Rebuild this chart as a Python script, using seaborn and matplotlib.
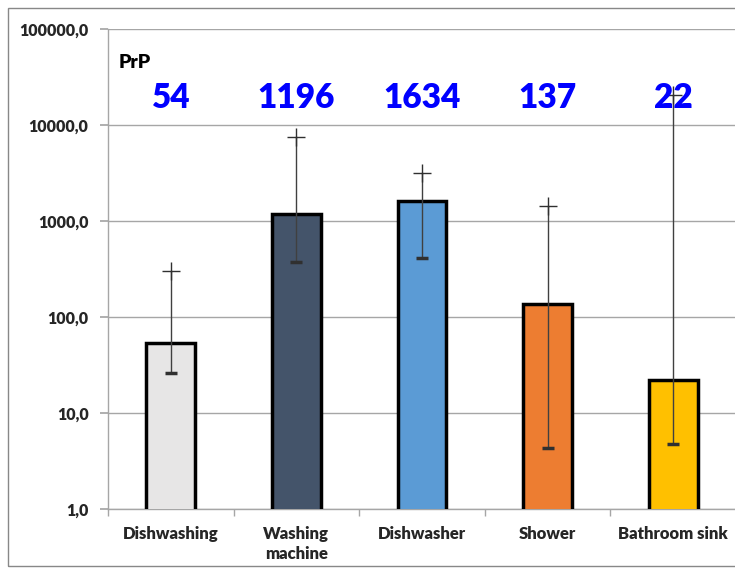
import matplotlib
matplotlib.use("Agg")
import matplotlib.pyplot as plt
import seaborn as sns
import numpy as np
import pandas as pd
from matplotlib.patches import Rectangle
from matplotlib.ticker import FixedLocator, FuncFormatter

categories = ["Dishwashing", "Washing\nmachine", "Dishwasher", "Shower", "Bathroom sink"]
values = [54, 1196, 1634, 137, 22]
upper = [305, 7500, 3200, 1450, 20500]
lower = [26, 370, 415, 4.3, 4.7]
labels = ["54", "1196", "1634", "137", "22"]
colors = ["#E7E6E6", "#44546A", "#5B9BD5", "#ED7D31", "#FFC000"]
yticks = [1, 10, 100, 1000, 10000, 100000]

sns.set_theme(style="white")
plt.rcParams['font.family'] = ['Lato', 'DejaVu Sans']

fig = plt.figure(figsize=(7.35, 5.72), dpi=100)
ax = fig.add_axes([108/735, 1-509/572, 628/735, (509-29)/572])

df = pd.DataFrame({"cat": categories, "val": values})
sns.barplot(data=df, x="cat", y="val", hue="cat", palette=colors, legend=False,
            saturation=1, width=0.39, edgecolor="black", linewidth=2.5, ax=ax, zorder=3)
ax.set_yscale("log")
ax.set_ylim(1, 100000)
ax.set_xlim(-0.5, 4.5)

# error bars
xs = np.arange(len(categories))
ax.vlines(xs, lower, upper, color="#404040", lw=1.0, zorder=4)
ax.plot(xs, upper, ls="none", marker="+", ms=13, mew=1.0, color="#303030", zorder=5)
ax.plot(xs, lower, ls="none", marker="_", ms=8, mew=2.5, color="#303030", zorder=5)

# labels
for x, t in zip(xs, labels):
    ax.text(x, 19000, t, ha="center", va="center", color="#0000FF",
            fontsize=24, fontweight="heavy", zorder=6)
ax.text(0.017, 0.93, "PrP", transform=ax.transAxes, ha="left", va="center",
        fontsize=14, fontweight="heavy", color="black")

# grid & axes
ax.yaxis.set_major_locator(FixedLocator(yticks))
ax.yaxis.set_minor_locator(FixedLocator([]))
ax.yaxis.set_major_formatter(FuncFormatter(lambda v, p: f"{v:.1f}".replace(".", ",")))
ax.grid(axis="y", color="#A6A6A6", lw=1.0, zorder=0)
ax.set_axisbelow(True)
for s in ["top", "right"]:
    ax.spines[s].set_visible(False)
for s in ["left", "bottom"]:
    ax.spines[s].set_color("#A6A6A6")
    ax.spines[s].set_linewidth(1.0)

ax.set_xticks(xs)
ax.set_xticklabels(categories, fontsize=12, fontweight="heavy", linespacing=1.35)
ax.set_xticks(np.arange(-0.5, 5.0, 1.0), minor=True)
ax.tick_params(axis="x", which="major", length=0, pad=12)
ax.tick_params(axis="x", which="minor", length=5, color="#A6A6A6", direction="out", bottom=True)
ax.tick_params(axis="y", which="major", length=6, color="#A6A6A6", direction="out", left=True,
               labelsize=11.5, pad=8)
for lab in ax.get_yticklabels():
    lab.set_fontweight("heavy")
ax.set_xlabel("")
ax.set_ylabel("")

fig.patches.append(Rectangle((8/735, 1-566/572), 2, (566-8)/572, transform=fig.transFigure,
                             fill=False, edgecolor="#888888", lw=1.0))

fig.savefig("out.png", dpi=100)
